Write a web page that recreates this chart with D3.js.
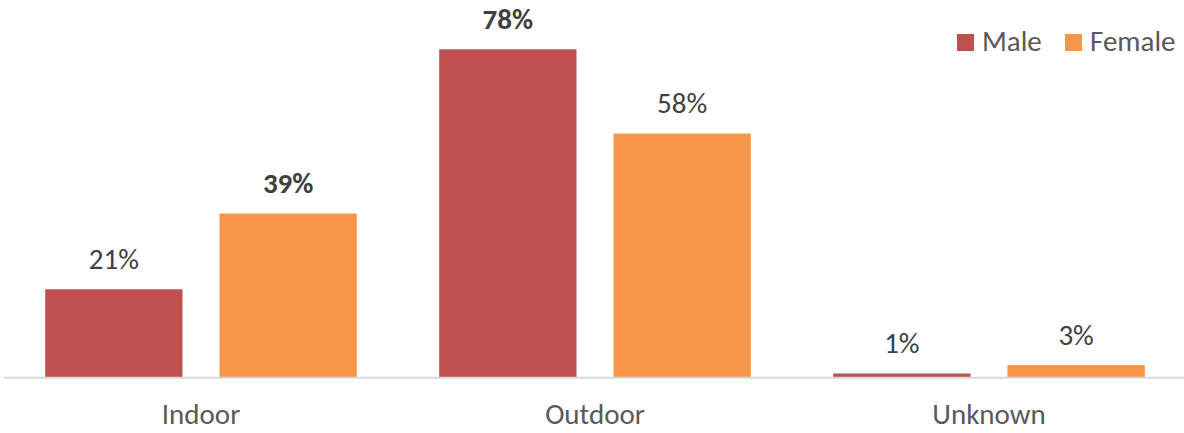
<!DOCTYPE html>
<html>
<head>
<meta charset="utf-8">
<script src="https://cdn.jsdelivr.net/npm/d3@7"></script>
<style>
  html, body { margin: 0; padding: 0; background: #fff; }
  svg { display: block; }
  text { font-family: Calibri, Carlito, "Open Sans", sans-serif; }
</style>
</head>
<body>
<svg id="chart" width="1184" height="433"></svg>
<script>
// Location of cases by sex (share of each sex)
const categories = ["Indoor", "Outdoor", "Unknown"];
const seriesNames = ["Male", "Female"];
const maleValues = [0.21, 0.78, 0.01];
const femaleValues = [0.39, 0.58, 0.03];
// labels shown in bold (largest share per series)
const boldLabels = [[false, true, false], [true, false, false]];

const colors = { Male: "#C0504D", Female: "#F79646" };
const seriesValues = [maleValues, femaleValues];

const svg = d3.select("#chart");
const W = 1184, H = 433;
const plot = { left: 4, right: 1186, top: -1.2, bottom: 377.7 };
const fontSize = 29;

const x0 = d3.scaleBand()
  .domain(categories)
  .range([plot.left, plot.right])
  .paddingInner(0)
  .paddingOuter(0);

const groupPad = 41.2;
const x1 = d3.scaleBand()
  .domain(seriesNames)
  .range([groupPad, x0.bandwidth() - groupPad])
  .paddingInner(37 / (137.3 + 37))
  .paddingOuter(0);

const y = d3.scaleLinear()
  .domain([0, 0.9])
  .range([plot.bottom, plot.top]);

const rows = [];
categories.forEach((c, i) => {
  seriesNames.forEach((s, j) => {
    rows.push({ cat: c, series: s, value: seriesValues[j][i], bold: boldLabels[j][i] });
  });
});

// bars
svg.append("g")
  .selectAll("rect")
  .data(rows)
  .join("rect")
  .attr("x", d => x0(d.cat) + x1(d.series))
  .attr("y", d => y(d.value))
  .attr("width", x1.bandwidth())
  .attr("height", d => y(0) - y(d.value))
  .attr("fill", d => colors[d.series]);

// category axis
const xAxis = svg.append("g")
  .attr("transform", `translate(0,${plot.bottom})`)
  .call(d3.axisBottom(x0).tickSize(0).tickPadding(0));
xAxis.select(".domain")
  .attr("stroke", "#D9D9D9")
  .attr("stroke-width", 2)
  .attr("d", `M${plot.left},0H${W}`);
xAxis.selectAll(".tick text")
  .attr("dy", null)
  .attr("y", 46)
  .attr("fill", "#595959")
  .attr("font-size", fontSize)
  .attr("font-family", 'Calibri, Carlito, "Open Sans", sans-serif');

// value labels
const fmt = d3.format(".0%");
svg.append("g")
  .selectAll("text")
  .data(rows)
  .join("text")
  .attr("x", d => x0(d.cat) + x1(d.series) + x1.bandwidth() / 2)
  .attr("y", d => y(d.value) - 20.5)
  .attr("text-anchor", "middle")
  .attr("font-size", fontSize)
  .attr("font-weight", d => d.bold ? "bold" : "normal")
  .attr("fill", "#404040")
  .text(d => fmt(d.value));

// legend
const legendX = { Male: 957, Female: 1065 };
const legend = svg.append("g")
  .selectAll("g")
  .data(seriesNames)
  .join("g")
  .attr("transform", d => `translate(${legendX[d]},34)`);
legend.append("rect")
  .attr("width", 17)
  .attr("height", 17)
  .attr("fill", d => colors[d]);
legend.append("text")
  .attr("x", 25)
  .attr("y", 17)
  .attr("font-size", fontSize)
  .attr("fill", "#595959")
  .text(d => d);
</script>
</body>
</html>
